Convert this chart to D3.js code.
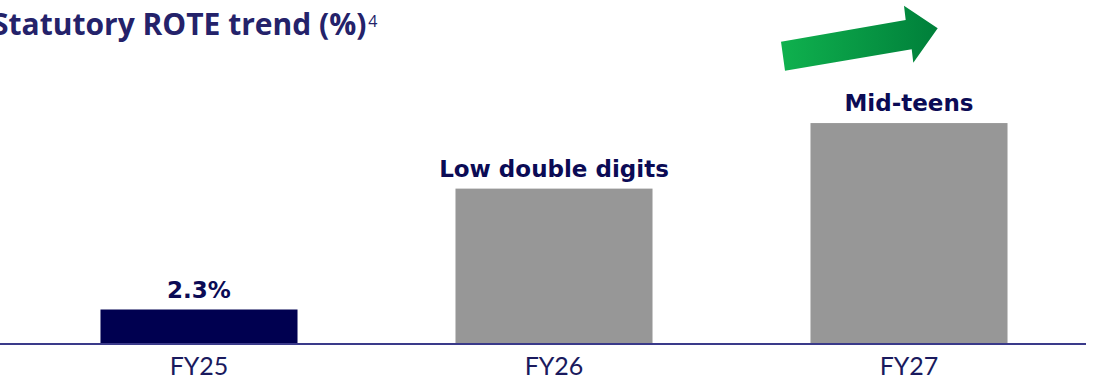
<!DOCTYPE html>
<html>
<head>
<meta charset="utf-8">
<script src="https://cdn.jsdelivr.net/npm/d3@7/dist/d3.min.js"></script>
<style>
  html, body { margin: 0; padding: 0; background: #ffffff; }
  svg { display: block; font-family: Lato, "Open Sans", sans-serif; }
</style>
</head>
<body>
<svg id="chart" width="1100" height="383"></svg>
<script>
// Statutory ROTE by financial year (actual FY25, guidance for FY26/FY27)
const years = ["FY25", "FY26", "FY27"];
const rote = [2.3, 10.6, 15.1];
const valueLabels = ["2.3%", "Low double digits", "Mid-teens"];
const barColors = ["#000050", "#979797", "#979797"];

const W = 1100, H = 383;
const baseY = 343;
const svg = d3.select("#chart");

const x = d3.scaleBand()
  .domain(years)
  .range([21.5, 1086.5])
  .paddingInner(0.445)
  .paddingOuter(0.2225);

const y = d3.scaleLinear()
  .domain([0, 2.3])
  .range([baseY, baseY - 33.5]);

// Bars
svg.append("g").selectAll("rect")
  .data(years)
  .join("rect")
  .attr("x", d => x(d))
  .attr("width", x.bandwidth())
  .attr("y", (d, i) => y(rote[i]))
  .attr("height", (d, i) => baseY - y(rote[i]))
  .attr("fill", (d, i) => barColors[i]);

// Value labels above bars
svg.append("g").selectAll("text")
  .data(years)
  .join("text")
  .attr("x", d => x(d) + x.bandwidth() / 2)
  .attr("y", (d, i) => y(rote[i]) - 12)
  .attr("text-anchor", "middle")
  .attr("font-family", "'DejaVu Sans', sans-serif")
  .attr("font-size", 23)
  .attr("font-weight", 700)
  .attr("fill", "#0b0b55")
  .text((d, i) => valueLabels[i]);

// Category axis
const axis = svg.append("g")
  .attr("transform", `translate(0,${baseY})`)
  .call(d3.axisBottom(x).tickSize(0).tickPadding(14));
axis.select(".domain").remove();
axis.selectAll("text")
  .attr("font-family", "Lato, 'Open Sans', sans-serif")
  .attr("font-size", 25)
  .attr("fill", "#1a1a5e")
  .attr("dy", "0.71em");

svg.append("line")
  .attr("x1", 0).attr("x2", 1086)
  .attr("y1", baseY + 1).attr("y2", baseY + 1)
  .attr("stroke", "#3a3a8a")
  .attr("stroke-width", 2);

// Title
const title = svg.append("text")
  .attr("x", -8)
  .attr("y", 35)
  .attr("font-family", "'Open Sans', sans-serif")
  .attr("font-size", 30)
  .attr("font-weight", 700)
  .attr("fill", "#24226a");
title.append("tspan").text("Statutory ROTE trend (%)");
title.append("tspan")
  .attr("font-size", 16)
  .attr("font-weight", 400)
  .attr("dy", -8)
  .attr("dx", 2)
  .text("4");

// Upward trend arrow
const defs = svg.append("defs");
const grad = defs.append("linearGradient")
  .attr("id", "arrowGrad")
  .attr("x1", "0%").attr("y1", "0%")
  .attr("x2", "100%").attr("y2", "0%");
grad.append("stop").attr("offset", "0%").attr("stop-color", "#0fb14e");
grad.append("stop").attr("offset", "100%").attr("stop-color", "#007f3a");

const arrowPts = [
  [781, 41.7], [905.7, 20], [904, 5.7], [937.7, 28.3],
  [913.3, 62.7], [911.7, 49.3], [785, 70.7]
];
svg.append("path")
  .attr("d", d3.line()(arrowPts) + "Z")
  .attr("fill", "url(#arrowGrad)");
</script>
</body>
</html>
